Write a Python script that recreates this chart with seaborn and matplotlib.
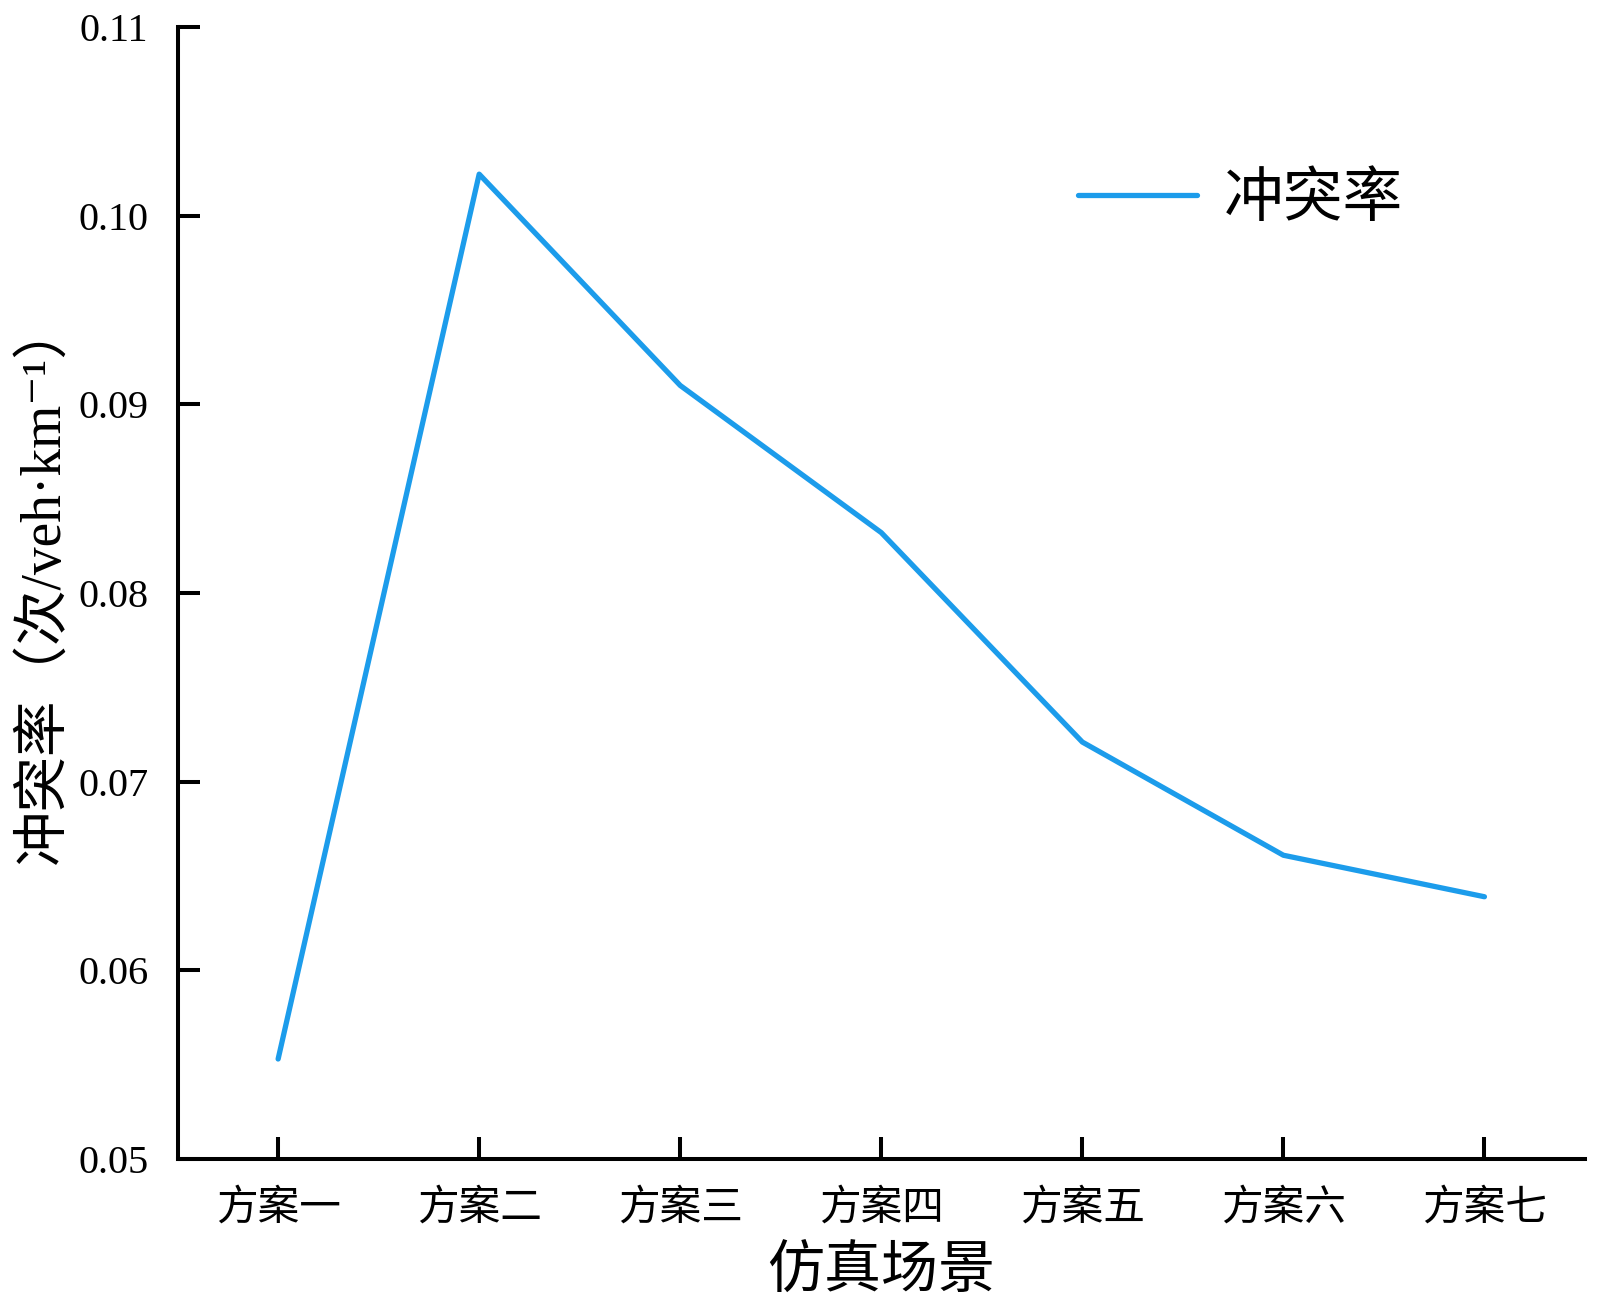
import matplotlib
matplotlib.use("Agg")
import matplotlib.pyplot as plt
import seaborn as sns
import pandas as pd

scenarios = ["方案一", "方案二", "方案三", "方案四", "方案五", "方案六", "方案七"]
conflict_rate = [0.0553, 0.1022, 0.0910, 0.0832, 0.0721, 0.0661, 0.0639]
y_ticks = [0.05, 0.06, 0.07, 0.08, 0.09, 0.10, 0.11]
series_name = "冲突率"

sns.set_theme(style="ticks")
fam = ["Liberation Serif", "Noto Sans CJK SC", "DejaVu Sans"]
plt.rcParams["font.family"] = fam
plt.rcParams["axes.unicode_minus"] = False
plt.rcParams["text.color"] = "black"
plt.rcParams["axes.labelcolor"] = "black"

df = pd.DataFrame({"场景": scenarios, "值": conflict_rate})

fig = plt.figure(figsize=(16, 13.04), dpi=100)
ax = fig.add_axes([0.111, 0.1112, 0.8796, 0.8681])

sns.lineplot(data=df, x="场景", y="值", ax=ax, color="#1C9CEB", linewidth=3.8,
             sort=False, label=series_name, solid_capstyle="round", solid_joinstyle="round")

ax.set_xlim(-0.5, 6.5)
ax.set_ylim(0.05, 0.11)
ax.set_yticks(y_ticks)
ax.set_yticklabels([f"{v:.2f}" for v in y_ticks], fontsize=29, family=fam, color="black")
ax.set_xticks(range(len(scenarios)))
ax.set_xticklabels(scenarios, fontsize=30, family=fam, color="black")

for s in ["top", "right"]:
    ax.spines[s].set_visible(False)
for s in ["left", "bottom"]:
    ax.spines[s].set_linewidth(2.9)
    ax.spines[s].set_color("black")

ax.tick_params(axis="y", direction="in", length=16, width=2.9, pad=21, colors="black")
ax.tick_params(axis="x", direction="in", length=16, width=2.9, pad=22, colors="black")

ax.set_xlabel("仿真场景", fontsize=41, family=fam, labelpad=13, color="black")
ax.set_ylabel("冲突率（次/veh·km⁻¹）", fontsize=40, family=fam, color="black")
ax.yaxis.set_label_coords(-0.076, 0.51)

leg = ax.legend(loc="upper right", bbox_to_anchor=(0.909, 0.918), frameon=False,
                prop={"family": fam, "size": 43}, handlelength=2.0, handletextpad=0.45)
for t in leg.get_texts():
    t.set_color("black")

fig.savefig("out.png", dpi=100)
